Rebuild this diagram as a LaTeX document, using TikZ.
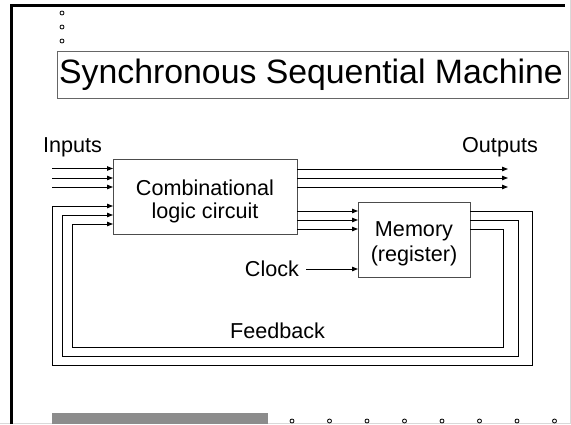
\documentclass[tikz,border=0pt]{standalone}
\usepackage{fontspec}
\setmainfont{Liberation Sans}
\usetikzlibrary{arrows.meta}
\begin{document}
\begin{tikzpicture}[x=1pt,y=-1pt,
  wire/.style={line width=1pt,black},
  arr/.style={wire,-{Triangle[length=6pt,width=4.5pt]}},
  blk/.style={draw=black!70,line width=1pt,fill=white},
  lbl/.style={font=\fontsize{21.6}{24}\selectfont,inner sep=0pt},
  dot/.style={draw=black,line width=0.8pt,fill=white}]
\useasboundingbox (0,0) rectangle (571,424);
% slide frame
\draw[black!15,line width=1pt] (0,423.5) -- (570.5,423.5) -- (570.5,0);
\draw[black,line width=3pt] (11,424) -- (11,5) -- (565,5);
\foreach \y in {13,27,41} \draw[dot] (62,\y) circle (2);
\fill[black!45] (52,413) rectangle (268,424);
\foreach \x in {292,329.5,367,404.5,442,479.5,517,554.5} \draw[dot] (\x,421) circle (2);
% title
\node[draw=black!60,line width=0.8pt,minimum width=511pt,minimum height=47pt,anchor=north west,inner sep=0pt]
  (title) at (57,51) {};
\node[font=\fontsize{33.8}{36}\selectfont,anchor=west,inner sep=0pt] (tt) at (59,75) {Synchronous Sequential Machine};
% blocks
\node[blk,minimum width=184pt,minimum height=75pt,anchor=north west] (comb) at (113,159) {};
\node[lbl] (c1) at (205,188) {Combinational};
\node[lbl] (c2) at (205,213) {logic circuit};
\node[blk,minimum width=112pt,minimum height=75pt,anchor=north west] (mem) at (358,202) {};
\node[lbl] (m1) at (414,231) {Memory};
\node[lbl] (m2) at (414,256) {(register)};
\node[lbl] (in) at (72.5,147) {Inputs};
\node[lbl] (out) at (500,147) {Outputs};
\node[lbl] (clk) at (272,269) {Clock};
\node[lbl] (fb) at (277.5,331) {Feedback};
% inputs
\foreach \y in {168.5,178,187} {
  \coordinate (a) at (52,\y);
  \draw[arr] (a) -- (a -| comb.west);
}
% outputs
\foreach \y in {169,178,187} {
  \coordinate (b) at (297,\y);
  \coordinate (c) at (508,\y);
  \draw[arr] (b) -- (c);
}
% comb -> memory
\foreach \y in {211,220,229} {
  \coordinate (d) at (297,\y);
  \draw[arr] (d) -- (d -| mem.west);
}
% clock
\draw[arr] (clk.east) ++(7,0) coordinate (k) (k) -- (k -| mem.west);
% feedback loops
\draw[wire] (470,211.5) -- (532,211.5) -- (532,365) -- (52,365) -- (52,206);
\draw[arr] (52,206) -- (113,206);
\draw[wire] (470,220.5) -- (518,220.5) -- (518,356) -- (62,356) -- (62,215);
\draw[arr] (62,215) -- (113,215);
\draw[wire] (470,229.5) -- (503,229.5) -- (503,347) -- (72,347) -- (72,224);
\draw[arr] (72,224) -- (113,224);
\end{tikzpicture}
\end{document}
